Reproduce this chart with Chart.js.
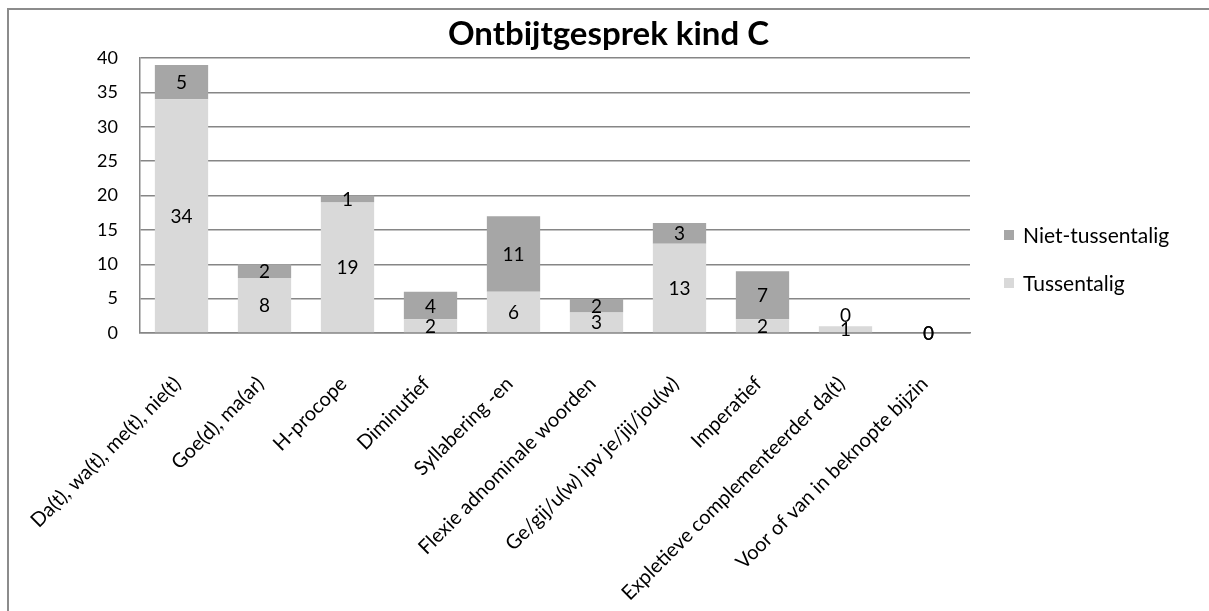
<!DOCTYPE html>
<html>
<head>
<meta charset="utf-8">
<title>Ontbijtgesprek kind C</title>
<script src="https://cdn.jsdelivr.net/npm/chart.js@4.4.1/dist/chart.umd.min.js"></script>
<style>
  html, body { margin: 0; padding: 0; background: #fff; overflow: hidden; }
  #wrap { position: relative; width: 1209px; height: 611px; overflow: hidden; font-family: Lato, "Open Sans", sans-serif; }
  #frame { position: absolute; left: 7px; top: 8px; width: 1400px; height: 800px;
           border-top: 2px solid #8c8c8c; border-left: 2px solid #8c8c8c; box-sizing: border-box; }
  #chart { position: absolute; left: 0; top: 0; }
  #title { position: absolute; left: 4px; top: 12px; width: 1209px; text-align: center;
           font-weight: bold; font-size: 33px; line-height: 40px; color: #000; }
  #legend { position: absolute; left: 1004px; top: 220px; }
  .item { position: relative; height: 48px; font-size: 21px; line-height: 30px; color: #000; }
  .swatch { position: absolute; left: 0; top: 10px; width: 10px; height: 10px; }
  .label { position: absolute; left: 19px; top: 0; white-space: nowrap; }
</style>
</head>
<body>
<div id="wrap">
  <div id="frame"></div>
  <canvas id="chart" width="1209" height="611"></canvas>
  <div id="title">Ontbijtgesprek kind C</div>
  <div id="legend"></div>
</div>
<script>
// Categories along the x axis
const categories = [
  "Da(t), wa(t), me(t), nie(t)",
  "Goe(d), ma(ar)",
  "H-procope",
  "Diminutief",
  "Syllabering -en",
  "Flexie adnominale woorden",
  "Ge/gij/u(w) ipv je/jij/jou(w)",
  "Imperatief",
  "Expletieve complementeerder da(t)",
  "Voor of van in beknopte bijzin"
];

// Counts per category, stacked
const tussentalig     = [34, 8, 19, 2, 6, 3, 13, 2, 1, 0];
const nietTussentalig = [5, 2, 1, 4, 11, 2, 3, 7, 0, 0];

// Value axis
const yMin = 0;
const yMax = 40;
const yStep = 5;

const seriesNames  = ["Tussentalig", "Niet-tussentalig"];
const seriesColors = ["#d9d9d9", "#a6a6a6"];

const FONT = "Lato, 'Open Sans', sans-serif";
const AXIS_GREY = "#868686";

// Value labels in the middle of every stacked segment
const segmentLabels = {
  id: "segmentLabels",
  afterDatasetsDraw(chart) {
    const ctx = chart.ctx;
    ctx.save();
    ctx.font = "19px " + FONT;
    ctx.fillStyle = "#000";
    ctx.textAlign = "center";
    ctx.textBaseline = "middle";
    chart.data.datasets.forEach((ds, di) => {
      const meta = chart.getDatasetMeta(di);
      meta.data.forEach((bar, i) => {
        const v = ds.data[i];
        let y = (bar.y + bar.base) / 2;
        // an empty segment resting on a filled one is lifted clear of it
        if (v === 0 && di > 0 && chart.data.datasets[di - 1].data[i] > 0) y -= 11;
        ctx.fillText(String(v), bar.x, y + 1);
      });
    });
    ctx.restore();
  }
};

const chart = new Chart(document.getElementById("chart"), {
  type: "bar",
  data: {
    labels: categories,
    datasets: [
      { label: seriesNames[0], data: tussentalig, backgroundColor: seriesColors[0] },
      { label: seriesNames[1], data: nietTussentalig, backgroundColor: seriesColors[1] }
    ]
  },
  options: {
    responsive: false,
    animation: false,
    events: [],
    layout: { padding: { left: 0, top: 58, right: 239, bottom: 0 } },
    datasets: { bar: { categoryPercentage: 1, barPercentage: 0.642 } },
    plugins: {
      legend: { display: false },
      title: { display: false },
      tooltip: { enabled: false }
    },
    scales: {
      x: {
        stacked: true,
        grid: { display: false, drawTicks: false },
        border: { display: true, color: AXIS_GREY, width: 1.5 },
        ticks: {
          color: "#000",
          font: { family: FONT, size: 20 },
          minRotation: 45,
          maxRotation: 45,
          autoSkip: false,
          padding: 39,
          labelOffset: -4
        },
        afterFit(scale) {
          scale.height = 611 - 333;
          scale.paddingLeft = 0;
          scale.paddingRight = 0;
        }
      },
      y: {
        stacked: true,
        min: yMin,
        max: yMax,
        grid: { color: AXIS_GREY, lineWidth: 1.5, drawTicks: false },
        border: { display: true, color: AXIS_GREY, width: 1.5 },
        ticks: {
          stepSize: yStep,
          color: "#000",
          font: { family: FONT, size: 18 },
          padding: 22
        },
        afterFit(scale) {
          scale.width = 140;
          scale.paddingTop = 0;
          scale.paddingBottom = 0;
        }
      }
    }
  },
  plugins: [segmentLabels]
});

// Legend: top series first
const legend = document.getElementById("legend");
[1, 0].forEach(i => {
  const item = document.createElement("div");
  item.className = "item";
  const sw = document.createElement("div");
  sw.className = "swatch";
  sw.style.background = seriesColors[i];
  const lb = document.createElement("div");
  lb.className = "label";
  lb.textContent = seriesNames[i];
  item.appendChild(sw);
  item.appendChild(lb);
  legend.appendChild(item);
});
</script>
</body>
</html>
